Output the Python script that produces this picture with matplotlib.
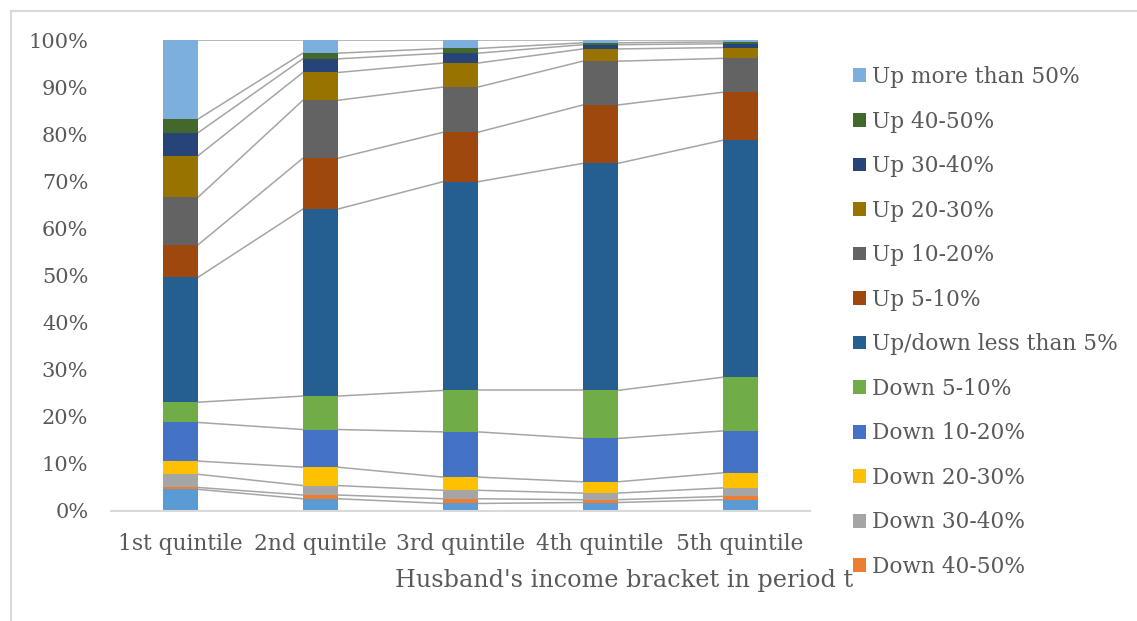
import numpy as np
import matplotlib.pyplot as plt
from matplotlib.patches import Patch
from matplotlib.lines import Line2D

plt.rcParams['font.family'] = ['DejaVu Serif']

quintiles = ["1st quintile", "2nd quintile", "3rd quintile", "4th quintile", "5th quintile"]

# share of each change bracket per income quintile (%), stacked bottom to top
down_more_50 = [4.6, 2.6, 1.6, 1.8, 2.4]
down_40_50 = [0.4, 0.8, 1.0, 0.6, 0.7]
down_30_40 = [2.8, 2.0, 1.8, 1.4, 1.8]
down_20_30 = [2.8, 3.9, 2.8, 2.4, 3.2]
down_10_20 = [8.2, 8.0, 9.6, 9.2, 8.9]
down_5_10 = [4.3, 7.1, 8.8, 10.2, 11.4]
less_5 = [26.5, 39.7, 44.3, 48.2, 50.3]
up_5_10 = [6.9, 10.8, 10.5, 12.4, 10.2]
up_10_20 = [10.1, 12.3, 9.6, 9.3, 7.2]
up_20_30 = [8.8, 5.9, 5.1, 2.6, 2.3]
up_30_40 = [4.9, 2.9, 2.1, 0.9, 0.8]
up_40_50 = [2.9, 1.2, 1.0, 0.4, 0.4]
up_more_50 = [16.8, 2.8, 1.8, 0.6, 0.4]

series = [down_more_50, down_40_50, down_30_40, down_20_30, down_10_20, down_5_10,
          less_5, up_5_10, up_10_20, up_20_30, up_30_40, up_40_50, up_more_50]
names = ["Down more than 50%", "Down 40-50%", "Down 30-40%", "Down 20-30%",
         "Down 10-20%", "Down 5-10%", "Up/down less than 5%", "Up 5-10%",
         "Up 10-20%", "Up 20-30%", "Up 30-40%", "Up 40-50%", "Up more than 50%"]
colors = ["#5B9BD5", "#ED7D31", "#A5A5A5", "#FFC000", "#4472C4", "#70AD47",
          "#255E91", "#9E480E", "#636363", "#997300", "#264478", "#43682B", "#7CAFDD"]

W, H = 1137, 621
fig = plt.figure(figsize=(W / 100, H / 100), dpi=100)
ax = fig.add_axes([110.5 / W, 110 / H, 699.5 / W, 471 / H])

x = np.arange(len(quintiles))
width = 0.25
bottom = np.zeros(len(quintiles))
for vals, name, c in zip(series, names, colors):
    vals = np.array(vals)
    ax.bar(x, vals, width, bottom=bottom, color=c, label=name, zorder=2)
    top = bottom + vals
    # series lines joining segment tops between neighbouring bars
    for i in range(len(x) - 1):
        ax.plot([x[i] + width / 2, x[i + 1] - width / 2], [top[i], top[i + 1]],
                color="#A5A5A5", lw=1.1, zorder=1)
    bottom = top

ax.set_xlim(-0.5, len(quintiles) - 0.5)
ax.set_ylim(0, 100)
ax.set_yticks(range(0, 101, 10))
ax.set_yticklabels([f"{v}%" for v in range(0, 101, 10)])
ax.set_xticks(x)
ax.set_xticklabels(quintiles)
ax.tick_params(axis="both", length=0, labelsize=15, colors="#595959")
ax.tick_params(axis="x", labelsize=15.7, pad=16)
ax.tick_params(axis="y", pad=16)
for s in ["left", "right", "top"]:
    ax.spines[s].set_visible(False)
ax.spines["bottom"].set_color("#D9D9D9")
ax.spines["bottom"].set_linewidth(1.5)

fig.text(624.5 / W, 1 - 581 / H, "Husband's income bracket in period t",
         ha="center", va="center", fontsize=17.2, color="#595959")

# legend runs top-down from the highest bracket
handles = [Patch(facecolor=c) for c in colors][::-1][:12]
labels = names[::-1][:12]
fig.legend(handles, labels, loc="upper left", bbox_to_anchor=(853 / W, 1 - 66 / H),
           frameon=False, handlelength=0.6, handleheight=0.6, handletextpad=0.28,
           labelspacing=1.04, fontsize=15.6, labelcolor="#595959",
           borderaxespad=0, borderpad=0)

# chart frame
fig.add_artist(Line2D([11 / W, 1], [1 - 11 / H, 1 - 11 / H], color="#D9D9D9", lw=1.5))
fig.add_artist(Line2D([11 / W, 11 / W], [0, 1 - 11 / H], color="#D9D9D9", lw=1.5))

fig.savefig("out.png", dpi=100)
